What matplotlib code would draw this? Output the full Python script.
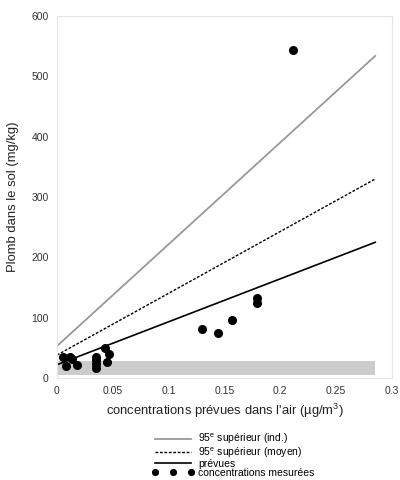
import matplotlib
matplotlib.use('Agg')
import matplotlib.pyplot as plt
import numpy as np

plt.rcParams['font.family'] = ['Liberation Sans', 'DejaVu Sans']
plt.rcParams['mathtext.fontset'] = 'custom'
plt.rcParams['mathtext.rm'] = 'Liberation Sans'
plt.rcParams['mathtext.it'] = 'Liberation Sans'
plt.rcParams['mathtext.default'] = 'regular'

# Concentrations mesurées (air, sol)
air_mesure = [0.005, 0.008, 0.012, 0.013, 0.018, 0.035, 0.035, 0.035, 0.035,
              0.043, 0.047, 0.045, 0.130, 0.144, 0.157, 0.179, 0.179, 0.2116]
sol_mesure = [35, 20, 35, 31, 22, 35, 30, 23, 16,
              49, 39, 27, 81, 74, 96, 133, 124, 543]

# Droites (début, fin)
x_droites = [0, 0.285]
y_ind = [53, 534]
y_moyen = [38, 330]
y_prevues = [22, 225]

# Bande grise
bande_x = [0, 0.285]
bande_y = [5, 28]

fig = plt.figure(figsize=(4, 4.8), dpi=100)
ax = fig.add_axes([0.1425, 0.2125, 0.8375, 0.754])

ax.fill_between(bande_x, bande_y[0], bande_y[1], color='#cccccc', lw=0, zorder=1)
ax.plot(x_droites, y_ind, color='#999999', lw=1.3, label='95$^{e}$ supérieur (ind.)', zorder=2)
ax.plot(x_droites, y_moyen, color='black', lw=1.0, ls=(0, (2, 1.2)), label='95$^{e}$ supérieur (moyen)', zorder=2)
ax.plot(x_droites, y_prevues, color='black', lw=1.2, label='prévues', zorder=2)
ax.plot(air_mesure, sol_mesure, 'o', color='black', ms=5.5, label='concentrations mesurées', zorder=3)

ax.set_xlim(0, 0.3)
ax.set_ylim(0, 600)
ax.set_xticks([0, 0.05, 0.1, 0.15, 0.2, 0.25, 0.3])
ax.set_xticklabels(['0', '0.05', '0.1', '0.15', '0.2', '0.25', '0.3'])
ax.set_yticks([0, 100, 200, 300, 400, 500, 600])
ax.tick_params(length=0, labelsize=7.5, colors='#333333', pad=6)
for s in ax.spines.values():
    s.set_color('#e6e6e6')
    s.set_linewidth(0.8)

ax.set_xlabel('concentrations prévues dans l\'air (µg/m$^{3}$)', fontsize=9.4, color='#222222', labelpad=4)
ax.set_ylabel('Plomb dans le sol (mg/kg)', fontsize=9.4, color='#222222', labelpad=9)

fig.legend(loc='upper left', bbox_to_anchor=(0.38, 0.1), frameon=False, fontsize=7.5,
           numpoints=3, handlelength=4.0, handletextpad=0.4, labelspacing=-0.1,
           markerscale=0.75, borderpad=0, borderaxespad=0)

fig.savefig('out.png', dpi=100)
